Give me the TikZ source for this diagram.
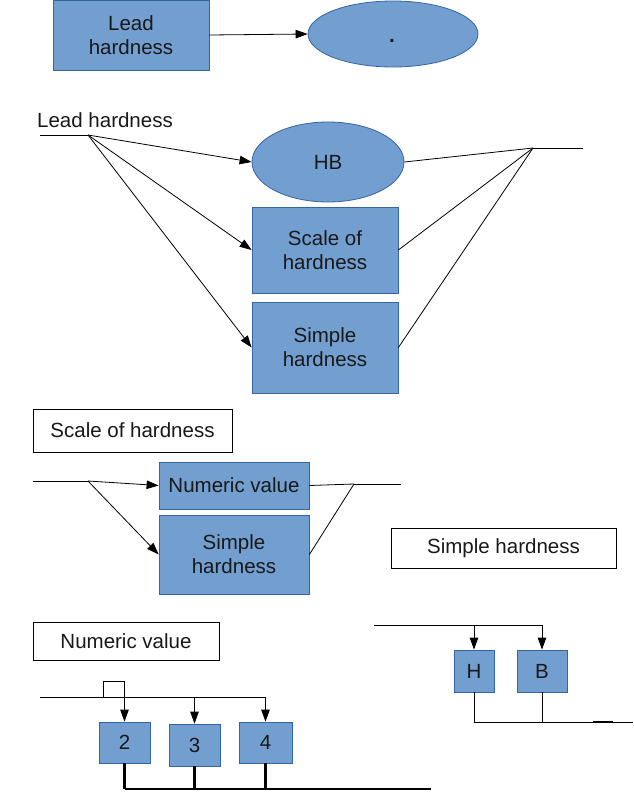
\documentclass[tikz,border=0pt]{standalone}
\usepackage{fontspec}
\setmainfont{Liberation Sans}
\usetikzlibrary{arrows.meta,shapes.geometric}
\definecolor{boxfill}{HTML}{729FCF}
\definecolor{boxline}{HTML}{3465A4}
\tikzset{
  txt/.style={font=\fontsize{20.5}{24}\selectfont, text=black!90},
  bluebox/.style={txt, draw=boxline, fill=boxfill, line width=0.8pt, inner sep=0pt, align=center},
  blueell/.style={bluebox, ellipse},
  whitebox/.style={txt, draw=black, fill=white, line width=0.8pt, inner sep=0pt, align=center},
  conn/.style={line width=0.8pt, black},
  arr/.style={conn, -{Triangle[length=12pt,width=8.5pt]}},
  bus/.style={line width=2.6pt, black},
}
\begin{document}
\begin{tikzpicture}[x=1pt,y=-1pt]
\useasboundingbox (0,0) rectangle (633,811);
% ---- top
\node[bluebox, minimum width=156pt, minimum height=70pt] (box1) at (131,35) {Lead\\hardness};
\node[blueell, minimum width=170pt, minimum height=66pt] (ell1) at (393,34) {};
\node[txt, inner sep=0pt, font=\fontsize{20.5}{24}\selectfont\bfseries] (dot1) at (392,41) {.};
\draw[arr] (box1.east) -- (ell1.west);
% ---- section 2
\node[txt, anchor=west, inner sep=0pt] (lhl) at (37,120) {Lead hardness};
\coordinate (a1) at (40,135);
\coordinate (a2) at (88,135);
\node[blueell, minimum width=152pt, minimum height=80pt] (hb) at (328,162) {HB};
\node[bluebox, minimum width=146pt, minimum height=86pt] (sc) at (325,250) {Scale of\\hardness};
\node[bluebox, minimum width=146pt, minimum height=91pt] (sp) at (325,347.5) {Simple\\hardness};
\coordinate (b1) at (533,148);
\coordinate (b2) at (583,148);
\draw[conn] (a1) -- (a2);
\draw[arr] (a2) -- (hb.west);
\draw[arr] (a2) -- (sc.west);
\draw[arr] (a2) -- (sp.west);
\draw[conn] (hb.east) -- (b1);
\draw[conn] (sc.east) -- (b1);
\draw[conn] (sp.east) -- (b1);
\draw[conn] (b1) -- (b2);
% ---- section 3
\node[whitebox, minimum width=199pt, minimum height=43pt] (schl) at (132.5,430.5) {Scale of hardness};
\coordinate (c1) at (33,481);
\coordinate (c2) at (88,481);
\node[bluebox, minimum width=150pt, minimum height=47pt] (nv) at (234,485.5) {Numeric value};
\node[bluebox, minimum width=150pt, minimum height=79pt] (sh2) at (234,554.5) {Simple\\hardness};
\coordinate (d1) at (354,484);
\coordinate (d2) at (401,484);
\draw[conn] (c1) -- (c2);
\draw[arr] (c2) -- (nv.west);
\draw[arr] (c2) -- (sh2.west);
\draw[conn] (nv.east) -- (d1);
\draw[conn] (sh2.east) -- (d1);
\draw[conn] (d1) -- (d2);
\node[whitebox, minimum width=225pt, minimum height=40pt] (shl) at (503.5,548) {Simple hardness};
% ---- section 4 left
\node[whitebox, minimum width=186pt, minimum height=38pt] (nvl) at (126,641) {Numeric value};
\node[bluebox, minimum width=51pt, minimum height=41pt] (n2) at (124.5,742.5) {2};
\node[bluebox, minimum width=51pt, minimum height=42pt] (n3) at (194.5,745) {3};
\node[bluebox, minimum width=53pt, minimum height=41pt] (n4) at (265.5,742.5) {4};
\coordinate (e1) at (40,697);
\coordinate (e2) at (265.5,697);
\coordinate (e3) at (194.5,697);
\coordinate (k1) at (103,697);
\coordinate (k2) at (103,681);
\coordinate (k3) at (124.5,681);
\draw[conn] (e1) -- (e2);
\draw[arr] (k1) -- (k2) -- (k3) -- (n2.north);
\draw[arr] (e3) -- (n3.north);
\draw[arr] (e2) -- (n4.north);
\coordinate (g2) at (124.5,789);
\coordinate (g3) at (194.5,789);
\coordinate (g4) at (265.5,789);
\coordinate (g5) at (431,789);
\draw[bus] (n2.south) -- (g2);
\draw[bus] (n3.south) -- (g3);
\draw[bus] (n4.south) -- (g4);
\draw[bus] (g2) -- (g5);
% ---- section 4 right
\coordinate (f1) at (374,625);
\coordinate (fh) at (474,625);
\coordinate (fb) at (542,625);
\node[bluebox, minimum width=40pt, minimum height=42pt] (h) at (474,671) {H};
\node[bluebox, minimum width=50pt, minimum height=42pt] (bb) at (542,671) {B};
\draw[conn] (f1) -- (fb);
\draw[arr] (fh) -- (h.north);
\draw[arr] (fb) -- (bb.north);
\coordinate (q1) at (474,722);
\coordinate (q2) at (542,722);
\coordinate (q3) at (633,722);
\coordinate (q4) at (593,722);
\coordinate (q5) at (613,722);
\draw[conn] (h.south) -- (q1);
\draw[conn] (bb.south) -- (q2);
\draw[conn] (q1) -- (q3);
\draw[line width=1.8pt] (q4) -- (q5);
\end{tikzpicture}
\end{document}
